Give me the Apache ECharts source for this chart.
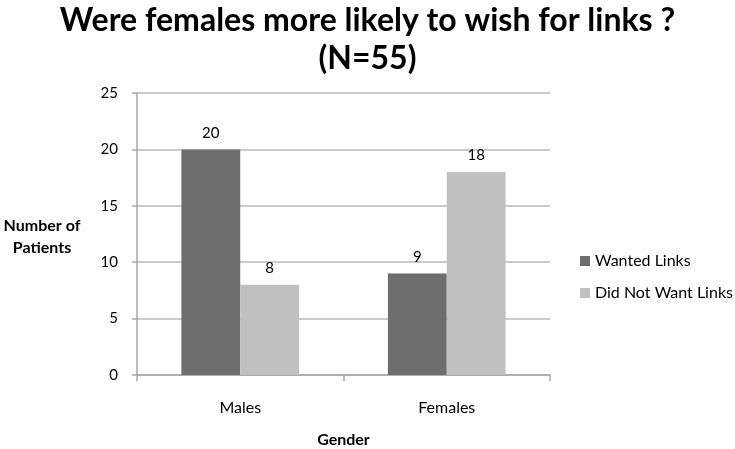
<!DOCTYPE html>
<html>
<head>
<meta charset="utf-8">
<script src="https://cdn.jsdelivr.net/npm/echarts@6/dist/echarts.min.js"></script>
<style>html,body{margin:0;padding:0;background:#fff;}#c{width:735px;height:449px;}</style>
</head>
<body>
<div id="c"></div>
<script>
var categories = ['Males', 'Females'];
var wantedLinks = [20, 9];
var didNotWantLinks = [8, 18];
var seriesNames = ['Wanted Links', 'Did Not Want Links'];
var yTicks = {min: 0, max: 25, interval: 5};

var FONT = 'Lato, "Open Sans", sans-serif';
var chart = echarts.init(document.getElementById('c'));
chart.setOption({
  animation: false,
  backgroundColor: '#fff',
  title: {
    text: 'Were females more likely to wish for links ?\n(N=55)',
    left: 'center',
    top: -3,
    textStyle: {fontFamily: FONT, fontWeight: 'bold', fontSize: 32, color: '#000', lineHeight: 38}
  },
  legend: {
    orient: 'vertical',
    left: 580,
    top: 253,
    padding: 0,
    itemWidth: 10,
    itemHeight: 10,
    itemGap: 16,
    icon: 'rect',
    textStyle: {fontFamily: FONT, fontSize: 16, color: '#000'},
    data: seriesNames
  },
  grid: {left: 137, right: 185, top: 93, bottom: 74, containLabel: false, outerBoundsMode: 'none'},
  xAxis: {
    type: 'category',
    data: categories,
    name: 'Gender',
    nameLocation: 'middle',
    nameGap: 57,
    nameTextStyle: {fontFamily: FONT, fontWeight: 'bold', fontSize: 16, color: '#000'},
    axisLine: {lineStyle: {color: '#a6a6a6', width: 1.5}},
    axisTick: {show: true, length: 6, lineStyle: {color: '#a6a6a6', width: 1.5}},
    axisLabel: {fontFamily: FONT, fontSize: 16, color: '#000', margin: 25}
  },
  yAxis: {
    type: 'value',
    min: yTicks.min, max: yTicks.max, interval: yTicks.interval,
    axisLine: {show: true, lineStyle: {color: '#a6a6a6', width: 1.5}},
    axisTick: {show: true, length: 5, lineStyle: {color: '#a6a6a6', width: 1.5}},
    axisLabel: {fontFamily: FONT, fontSize: 15, color: '#000', margin: 19},
    splitLine: {lineStyle: {color: '#b8b8b8', width: 1.5}}
  },
  graphic: [{
    type: 'text',
    x: 42,
    y: 237,
    style: {text: 'Number of\nPatients', textAlign: 'center', textVerticalAlign: 'middle',
      fontFamily: FONT, fontWeight: 'bold', fontSize: 16, lineHeight: 22, fill: '#000'}
  }],
  series: [{
    name: seriesNames[0],
    type: 'bar',
    data: wantedLinks,
    barCategoryGap: '43%',
    barGap: '0%',
    itemStyle: {color: '#6e6e6e'},
    label: {show: true, position: 'top', distance: 9, fontFamily: FONT, fontSize: 15, color: '#000'}
  }, {
    name: seriesNames[1],
    type: 'bar',
    data: didNotWantLinks,
    itemStyle: {color: '#c0c0c0'},
    label: {show: true, position: 'top', distance: 9, fontFamily: FONT, fontSize: 15, color: '#000'}
  }]
});
</script>
</body>
</html>
